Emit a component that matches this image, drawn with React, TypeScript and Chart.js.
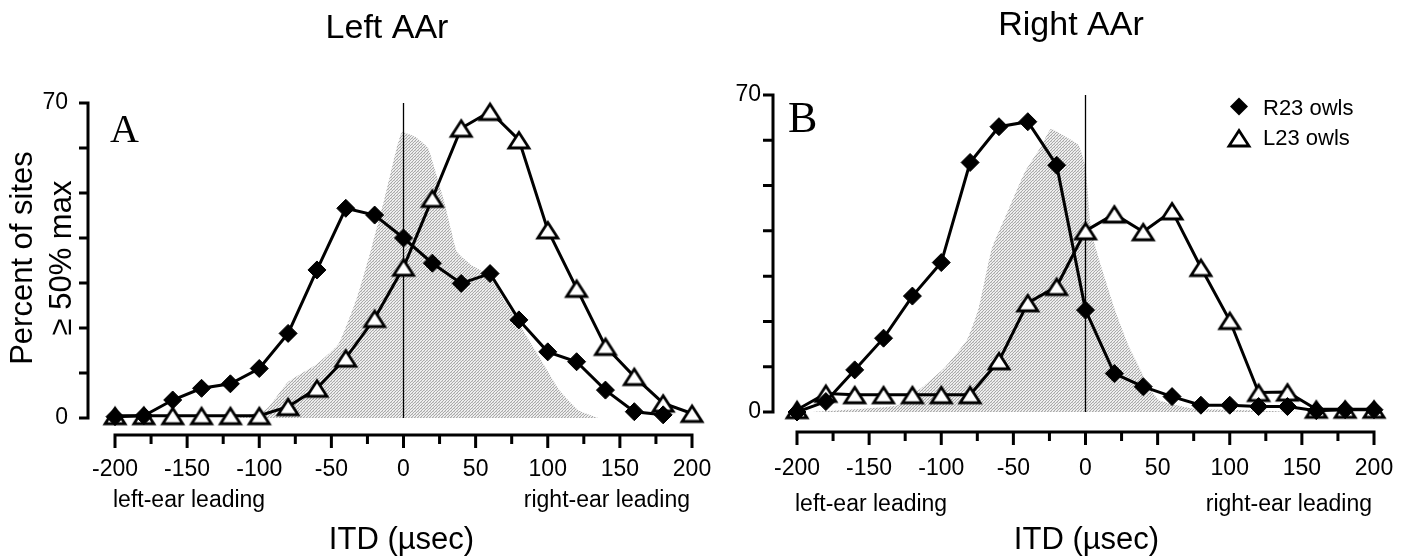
import React, { useEffect, useRef } from 'react';
import { Chart, registerables } from 'chart.js';

Chart.register(...registerables);

const FONT = "'Liberation Sans', Arial, Helvetica, sans-serif";
const SERIF = "'Liberation Serif', 'Times New Roman', serif";

// ITD (usec) sample positions
const itdValues = [-200, -180, -160, -140, -120, -100, -80, -60, -40, -20, 0, 20, 40, 60, 80, 100, 120, 140, 160, 180, 200];

// Panel A (Left AAr)
const leftR23 = [0.3, 0.5, 4, 6.6, 7.6, 11, 18.8, 32.9, 46.6, 45.1, 40, 34.4, 29.9, 32.1, 21.8, 14.7, 12.5, 6.2, 1.4, 0.7, null];
const leftL23 = [0.5, 0.5, 0.5, 0.5, 0.5, 0.5, 2.5, 6.6, 13.3, 22.1, 33.5, 48.8, 64.4, 68.1, 61.8, 41.8, 28.8, 15.9, 9.2, 3.3, 1.0];
const leftShadeItd = [-115, -95, -80, -60, -45, -32, -22, -13, -5, -1, 8, 17, 21, 28, 33, 37, 47, 60, 70, 80, 94, 108, 121, 135];
const leftShadePct = [0, 2, 8, 12, 16.5, 27, 38, 49, 59.6, 63.5, 62.5, 60, 56, 48.4, 41.8, 37, 34, 31.5, 26, 21, 13.6, 6.2, 1.8, 0];

// Panel B (Right AAr)
const rightR23 = [0, 2.3, 9.3, 16.3, 25.6, 33, 55.1, 63, 64.1, 54.5, 22.5, 8.5, 5.6, 3.4, 1.5, 1.5, 1.2, 1.2, 0.3, 0.5, 0.5];
const rightL23 = [0.5, 4.1, 3.8, 3.8, 3.8, 3.8, 3.8, 11.3, 24.1, 27.7, 40, 43.7, 39.8, 44.4, 31.9, 20.2, 4.3, 4.4, 0.6, 0.6, 0.6];
const rightShadeItd = [-190, -160, -130, -115, -97, -82, -74, -65, -53, -42, -31, -24, -15, -5, 0, 4, 11, 21, 30, 37, 44, 51, 74, 100, 150];
const rightShadePct = [0, 0.6, 1.5, 5, 10, 16, 23, 36, 45, 53, 58.5, 62.5, 61, 59, 54, 40, 32, 22, 14.5, 10, 5.5, 2.6, 0.8, 0.5, 0];

// Axes
const xTickValues = [-200, -175, -150, -125, -100, -75, -50, -25, 0, 25, 50, 75, 100, 125, 150, 175, 200];
const xTickLabels = ['-200', '', '-150', '', '-100', '', '-50', '', '0', '', '50', '', '100', '', '150', '', '200'];
const yTickValues = [0, 10, 20, 30, 40, 50, 60, 70];
const yTickLabels = ['0', '', '', '', '', '', '', '70'];
const zeroLineItd = [0, 0];
const zeroLinePct = [0, 70];
const seriesNames = ['R23 owls', 'L23 owls'];

type PanelCfg = {
  width: number;
  title: string;
  titleX: number;
  titleY: number;
  letter: string;
  letterX: number;
  letterY: number;
  letterSize: number;
  xMin: number;
  xMax: number;
  yMin: number;
  yMax: number;
  padTop: number;
  padRight: number;
  yWidth: number;
  xHeight: number;
  yTickPad: number;
  xTickPad: number;
  yTickLen: number;
  yTitle: boolean;
  sideTextY: number;
  legend: boolean;
  legendX: number;
  r23: (number | null)[];
  l23: (number | null)[];
  shadeX: number[];
  shadeY: number[];
};

function makeTriangle(): HTMLCanvasElement {
  const c = document.createElement('canvas');
  c.width = 28;
  c.height = 24;
  const g = c.getContext('2d')!;
  g.beginPath();
  g.moveTo(14, 4.5);
  g.lineTo(24, 20);
  g.lineTo(4, 20);
  g.closePath();
  g.fillStyle = '#ffffff';
  g.fill();
  g.lineWidth = 2.8;
  g.lineJoin = 'miter';
  g.strokeStyle = '#000000';
  g.stroke();
  return c;
}

function makeStipple(): CanvasPattern | string {
  const c = document.createElement('canvas');
  c.width = 3;
  c.height = 3;
  const g = c.getContext('2d')!;
  g.fillStyle = '#eeeeee';
  g.fillRect(0, 0, 3, 3);
  g.fillStyle = '#a8a8a8';
  g.fillRect(0, 0, 1, 1);
  g.fillRect(2, 1, 1, 1);
  g.fillRect(1, 2, 1, 1);
  g.fillStyle = '#d0d0d0';
  g.fillRect(1, 0, 1, 1);
  return g.createPattern(c, 'repeat') || '#d4d4d4';
}

function Panel({ cfg }: { cfg: PanelCfg }) {
  const ref = useRef<HTMLCanvasElement | null>(null);
  useEffect(() => {
    const canvas = ref.current;
    if (!canvas) return;
    const tri = makeTriangle();
    const stipple = makeStipple();

    const decor = {
      id: 'decor',
      beforeDatasetsDraw(chart: any) {
        const { ctx, chartArea, scales } = chart;
        const x = scales.x;
        const y = scales.y;
        ctx.save();
        ctx.strokeStyle = '#000';
        ctx.lineWidth = 3;
        ctx.lineCap = 'butt';
        // y axis
        const yl = chartArea.left;
        const yb = y.getPixelForValue(yTickValues[0]);
        const yt = y.getPixelForValue(yTickValues[yTickValues.length - 1]);
        ctx.beginPath();
        ctx.moveTo(yl, yb + 1.5);
        ctx.lineTo(yl, yt - 1.5);
        yTickValues.forEach((v) => {
          const p = y.getPixelForValue(v);
          ctx.moveTo(yl - cfg.yTickLen, p);
          ctx.lineTo(yl, p);
        });
        ctx.stroke();
        // x axis
        const xb = chartArea.bottom;
        const xl = x.getPixelForValue(xTickValues[0]);
        const xr = x.getPixelForValue(xTickValues[xTickValues.length - 1]);
        ctx.beginPath();
        ctx.moveTo(xl - 1.5, xb);
        ctx.lineTo(xr + 1.5, xb);
        xTickValues.forEach((v, i) => {
          const p = x.getPixelForValue(v);
          ctx.moveTo(p, xb);
          ctx.lineTo(p, xb + (xTickLabels[i] ? 13 : 9));
        });
        ctx.stroke();
        ctx.restore();
      },
      afterDraw(chart: any) {
        const { ctx, scales } = chart;
        const x = scales.x;
        ctx.save();
        ctx.fillStyle = '#000';
        ctx.textBaseline = 'alphabetic';
        // panel title
        ctx.font = `34px ${FONT}`;
        ctx.textAlign = 'center';
        ctx.fillText(cfg.title, cfg.titleX, cfg.titleY);
        // panel letter
        ctx.font = `${cfg.letterSize}px ${SERIF}`;
        ctx.textAlign = 'left';
        ctx.fillText(cfg.letter, cfg.letterX, cfg.letterY);
        // side labels
        ctx.font = `23px ${FONT}`;
        ctx.textAlign = 'left';
        ctx.fillText('left-ear leading', x.getPixelForValue(xTickValues[0]) - 2, cfg.sideTextY);
        ctx.textAlign = 'right';
        ctx.fillText('right-ear leading', x.getPixelForValue(xTickValues[xTickValues.length - 1]) - 2, cfg.sideTextY);
        // legend
        if (cfg.legend) {
          const lx = cfg.legendX;
          ctx.beginPath();
          ctx.moveTo(lx, 97.5);
          ctx.lineTo(lx + 9, 106.5);
          ctx.lineTo(lx, 115.5);
          ctx.lineTo(lx - 9, 106.5);
          ctx.closePath();
          ctx.fill();
          ctx.drawImage(tri, lx - 14, 138 - 12);
          ctx.font = `22px ${FONT}`;
          ctx.textAlign = 'left';
          ctx.fillText(seriesNames[0], lx + 24, 115);
          ctx.fillText(seriesNames[1], lx + 24, 145);
        }
        ctx.restore();
      },
    };

    const pts = (xs: number[], ys: (number | null)[]) => xs.map((v, i) => ({ x: v, y: ys[i] }));

    const chart = new Chart(canvas, {
      type: 'line',
      data: {
        datasets: [
          {
            label: 'shade',
            data: pts(cfg.shadeX, cfg.shadeY),
            fill: 'origin',
            backgroundColor: stipple as any,
            borderWidth: 0,
            pointRadius: 0,
            tension: 0.15,
            order: 4,
          },
          {
            label: 'zero',
            data: pts(zeroLineItd, zeroLinePct),
            borderColor: '#000',
            borderWidth: 1.3,
            pointRadius: 0,
            fill: false,
            order: 3,
          },
          {
            label: seriesNames[1],
            data: pts(itdValues, cfg.l23),
            borderColor: '#000',
            borderWidth: 3,
            pointStyle: tri as any,
            pointRadius: 11,
            fill: false,
            tension: 0,
            clip: false as any,
            order: 2,
          },
          {
            label: seriesNames[0],
            data: pts(itdValues, cfg.r23),
            borderColor: '#000',
            borderWidth: 3,
            pointStyle: 'rectRot',
            pointRadius: 9,
            pointBackgroundColor: '#000',
            pointBorderColor: '#000',
            pointBorderWidth: 1,
            fill: false,
            tension: 0,
            clip: false as any,
            order: 1,
          },
        ],
      },
      options: {
        animation: false,
        responsive: false,
        devicePixelRatio: 1,
        events: [],
        layout: {
          autoPadding: false,
          padding: { left: 0, top: cfg.padTop, right: cfg.padRight, bottom: 0 },
        },
        plugins: {
          legend: { display: false },
          tooltip: { enabled: false },
          title: { display: false },
        },
        scales: {
          x: {
            type: 'linear',
            min: cfg.xMin,
            max: cfg.xMax,
            grid: { display: false, drawTicks: false },
            border: { display: false },
            afterBuildTicks: (s: any) => {
              s.ticks = xTickValues.map((v) => ({ value: v }));
            },
            afterFit: (s: any) => {
              s.height = cfg.xHeight;
              s.paddingLeft = 0;
              s.paddingRight = 0;
              s.paddingTop = 0;
              s.paddingBottom = 0;
            },
            ticks: {
              autoSkip: false,
              maxRotation: 0,
              padding: cfg.xTickPad,
              color: '#000',
              font: { family: FONT, size: 23, lineHeight: 1.2 },
              callback: (_v: any, i: number) => xTickLabels[i],
            },
            title: {
              display: true,
              text: 'ITD (µsec)',
              color: '#000',
              font: { family: FONT, size: 31, lineHeight: 1 },
              padding: 0,
            },
          },
          y: {
            type: 'linear',
            min: cfg.yMin,
            max: cfg.yMax,
            grid: { display: false, drawTicks: false },
            border: { display: false },
            afterBuildTicks: (s: any) => {
              s.ticks = yTickValues.map((v) => ({ value: v }));
            },
            afterFit: (s: any) => {
              s.width = cfg.yWidth;
              s.paddingLeft = 0;
              s.paddingRight = 0;
              s.paddingTop = 0;
              s.paddingBottom = 0;
            },
            ticks: {
              autoSkip: false,
              padding: cfg.yTickPad,
              color: '#000',
              font: { family: FONT, size: 23 },
              callback: (_v: any, i: number) => yTickLabels[i],
            },
            title: {
              display: cfg.yTitle,
              text: ['Percent of sites', '≥ 50% max'],
              color: '#000',
              font: { family: FONT, size: 31, lineHeight: 1.26 },
              padding: { top: 4, bottom: 0 },
            },
          },
        },
      },
      plugins: [decor],
    } as any);

    return () => {
      chart.destroy();
    };
  }, [cfg]);

  return <canvas ref={ref} width={cfg.width} height={556} style={{ display: 'block', width: cfg.width, height: 556 }} />;
}

const panelA: PanelCfg = {
  width: 720,
  title: 'Left AAr',
  titleX: 387,
  titleY: 38,
  letter: 'A',
  letterX: 110,
  letterY: 142,
  letterSize: 40,
  xMin: -218.72,
  xMax: 215.94,
  yMin: -3.778,
  yMax: 74.889,
  padTop: 81,
  padRight: 5,
  yWidth: 88,
  xHeight: 121,
  yTickPad: 20,
  xTickPad: 21,
  yTickLen: 9,
  yTitle: true,
  sideTextY: 507,
  legend: false,
  legendX: 0,
  r23: leftR23,
  l23: leftL23,
  shadeX: leftShadeItd,
  shadeY: leftShadePct,
};

const panelB: PanelCfg = {
  width: 690,
  title: 'Right AAr',
  titleX: 351,
  titleY: 35,
  letter: 'B',
  letterX: 68,
  letterY: 132,
  letterSize: 44,
  xMin: -216.64,
  xMax: 218.02,
  yMin: -4.416,
  yMax: 74.416,
  padTop: 75,
  padRight: 10,
  yWidth: 53,
  xHeight: 124,
  yTickPad: 12,
  xTickPad: 23,
  yTickLen: 10,
  yTitle: false,
  sideTextY: 511,
  legend: true,
  legendX: 519,
  r23: rightR23,
  l23: rightL23,
  shadeX: rightShadeItd,
  shadeY: rightShadePct,
};

export default function App() {
  return (
    <div style={{ position: 'absolute', left: 0, top: 0, width: 1410, height: 556, background: '#fff', overflow: 'hidden' }}>
      <div style={{ position: 'absolute', left: 0, top: 0 }}>
        <Panel cfg={panelA} />
      </div>
      <div style={{ position: 'absolute', left: 720, top: 0 }}>
        <Panel cfg={panelB} />
      </div>
    </div>
  );
}
